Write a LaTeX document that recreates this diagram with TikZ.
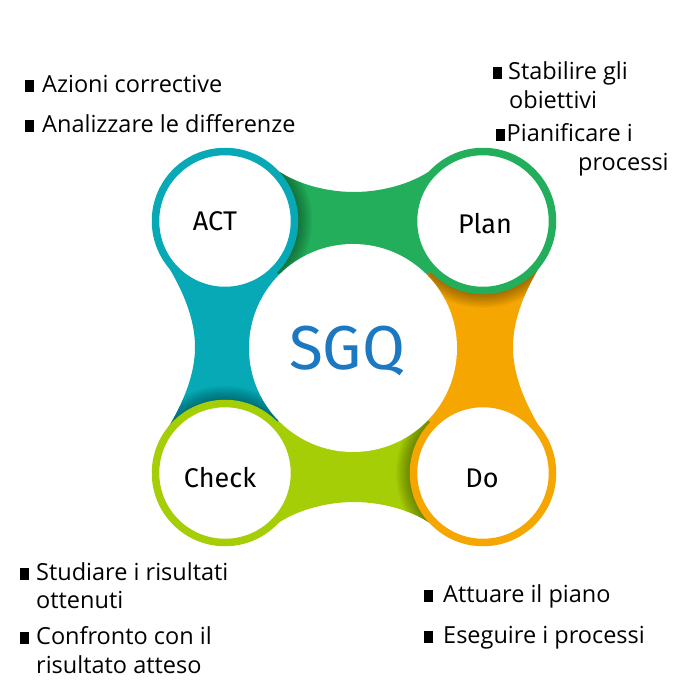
\documentclass[tikz,border=0pt]{standalone}
\usepackage{fontspec}
\setmainfont{Open Sans}[Ligatures=NoCommon]
\newfontfamily\labelfont{Fira Sans}
\definecolor{cteal}{HTML}{06A9B5}
\definecolor{cgreen}{HTML}{22AE5A}
\definecolor{corange}{HTML}{F6A600}
\definecolor{clime}{HTML}{A6CE06}
\definecolor{cblue}{HTML}{1B78C1}
\newcommand{\bsq}{\rule{9pt}{12pt}}
\tikzset{
  ring/.style={circle, draw=#1, fill=white, line width=7.5pt, minimum size=139pt, inner sep=0pt},
  hub/.style={circle, fill=white, minimum size=208pt, inner sep=0pt},
  lbl/.style={anchor=base, inner sep=0pt, font=\labelfont\fontsize{27}{30}\selectfont},
  txt/.style={anchor=base west, inner sep=0pt, font=\fontsize{23.5}{26}\selectfont},
  shade/.style={black, opacity=0.035}
}
\begin{document}
\begin{tikzpicture}[x=1pt,y=-1pt]
\useasboundingbox (0,0) rectangle (694,694);
\coordinate (cA) at (225,221);
\coordinate (cP) at (483,221);
\coordinate (cC) at (225,473);
\coordinate (cD) at (483,473);
\coordinate (cM) at (353,348);
% bridges
\fill[cgreen] (cA) -- (270.9,165.6) .. controls (292,183) and (325,192) .. (354,192) .. controls (383,192) and (416,183) .. (437.1,165.6) -- (cP) -- (cM) -- cycle;
\fill[cteal] (cA) -- (163.7,258.8) .. controls (174,276) and (195,310) .. (195,347) .. controls (195,384) and (174,418) .. (163.7,435.2) -- (cC) -- (cM) -- cycle;
\fill[corange] (cP) -- (544.3,258.8) .. controls (534,276) and (513,310) .. (513,347) .. controls (513,384) and (534,418) .. (544.3,435.2) -- (cD) -- (cM) -- cycle;
\fill[clime] (cC) -- (270.9,528.4) .. controls (292,511) and (325,502) .. (354,502) .. controls (383,502) and (416,511) .. (437.1,528.4) -- (cD) -- (cM) -- cycle;
% shadows
\begin{scope}
\clip (cA) -- (270.9,165.6) .. controls (292,183) and (325,192) .. (354,192) .. controls (383,192) and (416,183) .. (437.1,165.6) -- (cP) -- (cM) -- cycle;
\foreach \k in {1,...,10} \fill[shade] (cA) circle[radius={73+1.4*\k}];
\end{scope}
\begin{scope}
\clip (cP) -- (544.3,258.8) .. controls (534,276) and (513,310) .. (513,347) .. controls (513,384) and (534,418) .. (544.3,435.2) -- (cD) -- (cM) -- cycle;
\foreach \k in {1,...,10} \fill[shade] (cP) circle[radius={73+1.4*\k}];
\end{scope}
\begin{scope}
\clip (cC) -- (270.9,528.4) .. controls (292,511) and (325,502) .. (354,502) .. controls (383,502) and (416,511) .. (437.1,528.4) -- (cD) -- (cM) -- cycle;
\foreach \k in {1,...,10} \fill[shade] (cD) circle[radius={73+1.4*\k}];
\end{scope}
\begin{scope}
\clip (cA) -- (163.7,258.8) .. controls (174,276) and (195,310) .. (195,347) .. controls (195,384) and (174,418) .. (163.7,435.2) -- (cC) -- (cM) -- cycle;
\foreach \k in {1,...,10} \fill[shade] (cC) circle[radius={73+1.4*\k}];
\end{scope}
% circles
\node[hub] (M) at (cM) {};
\node[ring=cteal] (act) at (cA) {};
\node[ring=cgreen] (plan) at (cP) {};
\node[ring=clime] (check) at (cC) {};
\node[ring=corange] (do) at (cD) {};
% labels
\node[lbl] (tact) at (215,230) {ACT};
\node[lbl] (tplan) at (485,233) {Plan};
\node[lbl] (tcheck) at (220,487) {Check};
\node[lbl] (tdo) at (482,487) {Do};
\node[lbl, text=cblue, font=\labelfont\fontsize{62}{66}\selectfont] (tsgq) at (347,369) {SGQ};
% texts
\node[txt] (a1) at (25,92) {\bsq\hspace{8pt}Azioni corrective};
\node[txt] (a2) at (25,132) {\bsq\hspace{8pt}Analizzare le differenze};
\node[txt] (p1) at (493,79) {\bsq\hspace{6pt}Stabilire gli};
\node[txt] (p1b) at (509,108) {obiettivi};
\node[txt] (p2) at (496,141) {\bsq\hspace{1.5pt}Pianificare i};
\node[txt] (p2b) at (578,170) {processi};
\node[txt] (c1) at (20,580) {\bsq\hspace{7pt}Studiare i risultati};
\node[txt] (c1b) at (36,608) {ottenuti};
\node[txt] (c2) at (20,644) {\bsq\hspace{7pt}Confronto con il};
\node[txt] (c2b) at (36,673) {risultato atteso};
\node[txt] (d1) at (424,602) {\bsq\hspace{10pt}Attuare il piano};
\node[txt] (d2) at (424,643) {\bsq\hspace{10pt}Eseguire i processi};
\end{tikzpicture}
\end{document}
